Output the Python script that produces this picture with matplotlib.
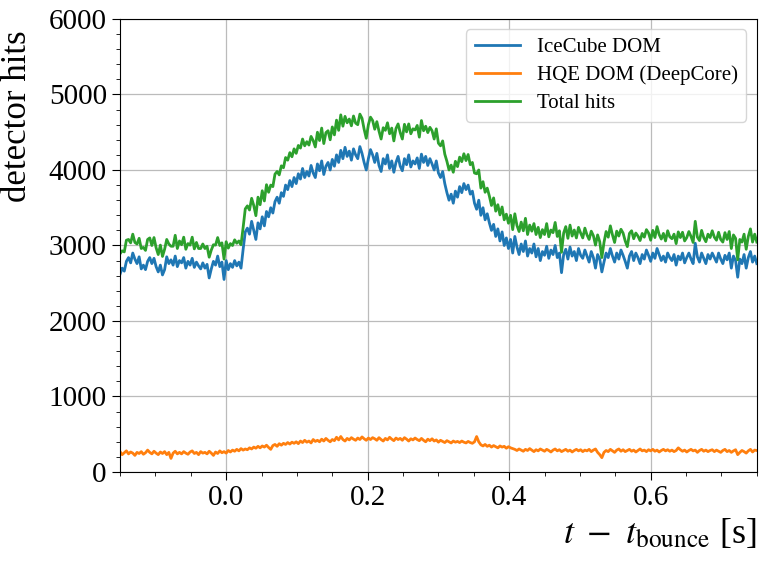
import numpy as np
import matplotlib
matplotlib.use("Agg")
import matplotlib.pyplot as plt
from matplotlib.ticker import MultipleLocator

# time axis: bins of 3 ms from -0.15 s to 0.75 s
t_start = -0.15
t_step = 0.003

# IceCube DOM hits per bin
icecube_hits = [
    2620, 2700, 2660, 2790, 2840, 2770, 2900, 2820, 2760, 2850, 2690, 2740, 2680, 2790, 2840, 2760, 2830, 2720, 2650, 2740,
    2610, 2680, 2850, 2760, 2810, 2740, 2860, 2720, 2800, 2770, 2840, 2700, 2790, 2740, 2830, 2710, 2780, 2730, 2690, 2770,
    2700, 2750, 2570, 2690, 2790, 2740, 2860, 2720, 2780, 2550, 2800, 2680, 2760, 2710, 2800, 2730, 2780, 2700, 2950, 3180,
    3230, 3150, 3320, 3200, 3080, 3300, 3220, 3380, 3260, 3450, 3380, 3500, 3430, 3580, 3640, 3560, 3700, 3650, 3800, 3740,
    3860, 3780, 3900, 3820, 3950, 3880, 4020, 3900, 3980, 3920, 4060, 3960, 3900, 4080, 3990, 4120, 3940, 4050, 4100, 4000,
    4140, 4050, 4200, 4100, 4260, 4150, 4300, 4180, 4250, 4130, 4280, 4200, 4150, 4310, 4220, 4100, 4000, 4150, 4270, 4200,
    4100, 4220, 4060, 3980, 4150, 4080, 4200, 4020, 4120, 3970, 4100, 4180, 4050, 3990, 4150, 4070, 4200, 4040, 4120, 4080,
    4160, 4020, 4210, 4100, 4180, 4060, 4150, 4080, 4000, 4120, 3960, 3900, 3980, 3820, 3700, 3600, 3680, 3560, 3720, 3640,
    3780, 3700, 3820, 3740, 3800, 3680, 3720, 3560, 3480, 3600, 3400, 3500, 3340, 3420, 3300, 3200, 3280, 3120, 3220, 3060,
    3180, 3000, 3100, 2960, 3080, 2900, 3120, 2980, 2880, 3020, 2920, 3060, 2860, 2960, 2900, 3020, 2850, 2960, 2800, 2920,
    2870, 2990, 2830, 2940, 2880, 3000, 2840, 2900, 2640, 2880, 2950, 2820, 2980, 2860, 2920, 2800, 2960, 2870, 2830, 2940,
    2860, 2780, 2920, 2840, 2700, 2880, 2820, 2650, 2780, 2900, 2840, 2960, 2860, 2780, 2900, 2820, 2940, 2870, 2790, 2700,
    2860, 2920, 2800, 2900, 2840, 2760, 2880, 2820, 2940, 2870, 2790, 2900, 2830, 2960, 2880, 2800, 2860, 2780, 2900, 2840,
    2800, 2880, 2740, 2860, 2810, 2900, 2770, 2840, 2900, 2820, 2760, 3030, 2850, 2780, 2900, 2830, 2760, 2880, 2820, 2900,
    2840, 2780, 2900, 2820, 2760, 2870, 2810, 2900, 2700, 2860, 2800, 2580, 2820, 2760, 2880, 2700, 2840, 2920, 2780, 2860,
    2760,
]

# HQE DOM (DeepCore) hits per bin
hqe_hits = [
    270, 230, 255, 280, 240, 265, 250, 220, 260, 245, 270, 235, 255, 290, 260, 240, 275, 250, 230, 265,
    245, 270, 230, 260, 180, 250, 275, 240, 260, 240, 270, 250, 235, 265, 280, 245, 260, 230, 270, 250,
    260, 240, 275, 250, 220, 265, 245, 280, 255, 270, 250, 285, 265, 290, 275, 300, 280, 310, 290, 305,
    295, 320, 305, 330, 315, 340, 320, 345, 330, 355, 325, 300, 350, 365, 340, 375, 355, 380, 365, 390,
    370, 395, 380, 400, 375, 410, 390, 420, 395, 410, 385, 430, 405, 420, 400, 435, 410, 445, 420, 400,
    430, 415, 460, 425, 470, 430, 410, 445, 425, 455, 435, 420, 450, 430, 465, 440, 420, 450, 430, 455,
    440, 420, 455, 430, 410, 445, 425, 460, 435, 415, 450, 430, 445, 420, 455, 435, 410, 440, 425, 450,
    430, 415, 445, 420, 400, 435, 415, 440, 410, 425, 395, 420, 405, 390, 415, 400, 385, 410, 395, 405,
    390, 410, 395, 385, 405, 390, 380, 400, 470, 400, 360, 345, 365, 340, 355, 330, 350, 335, 320, 345,
    330, 340, 315, 335, 320, 310, 300, 285, 305, 290, 275, 300, 285, 310, 290, 270, 295, 280, 305, 290,
    275, 300, 285, 265, 290, 305, 280, 295, 270, 285, 300, 275, 290, 265, 285, 300, 280, 295, 270, 290,
    280, 300, 270, 290, 305, 260, 230, 190, 260, 285, 270, 300, 280, 260, 290, 305, 275, 295, 270, 285,
    300, 275, 290, 265, 285, 305, 280, 290, 270, 295, 280, 300, 275, 290, 265, 285, 300, 280, 295, 275,
    290, 270, 285, 320, 295, 275, 290, 265, 285, 300, 280, 290, 260, 285, 300, 275, 290, 270, 285, 295,
    270, 290, 275, 260, 285, 300, 270, 285, 260, 280, 295, 230, 260, 285, 270, 250, 280, 300, 265, 290,
    285,
]

series_labels = ["IceCube DOM", "HQE DOM (DeepCore)", "Total hits"]

icecube = np.array(icecube_hits)
hqe = np.array(hqe_hits)
total = icecube + hqe
t = t_start + t_step * np.arange(len(icecube))

plt.rcParams["font.family"] = ["Liberation Serif", "DejaVu Serif"]
plt.rcParams["mathtext.fontset"] = "stix"

fig = plt.figure(figsize=(7.66, 5.65), dpi=100)
ax = fig.add_axes([0.1567, 0.1646, 0.8313, 0.8018])

ax.plot(t, icecube, color="#1f77b4", lw=2, label=series_labels[0])
ax.plot(t, hqe, color="#ff7f0e", lw=2, label=series_labels[1])
ax.plot(t, total, color="#2ca02c", lw=2, label=series_labels[2])

ax.set_xlim(-0.15, 0.75)
ax.set_ylim(0, 6000)
ax.xaxis.set_major_locator(MultipleLocator(0.2))
ax.xaxis.set_minor_locator(MultipleLocator(0.05))
ax.yaxis.set_major_locator(MultipleLocator(1000))
ax.yaxis.set_minor_locator(MultipleLocator(200))
ax.tick_params(which="major", labelsize=21, length=6)
ax.tick_params(which="minor", length=3)
ax.grid(True, which="major", color="#bbbbbb", lw=0.9)

ax.set_xlabel(r"$t\ -\ t_{\rm bounce}$ [s]", fontsize=26, loc="right")
ax.set_ylabel("detector hits", fontsize=25, loc="top")
ax.yaxis.set_label_coords(-0.135, 0.975, transform=ax.transAxes)
ax.yaxis.label.set_horizontalalignment("right")

ax.legend(loc="upper right", fontsize=15, handlelength=2.2, borderpad=0.4, labelspacing=0.4)

fig.savefig("out.png", dpi=100)
